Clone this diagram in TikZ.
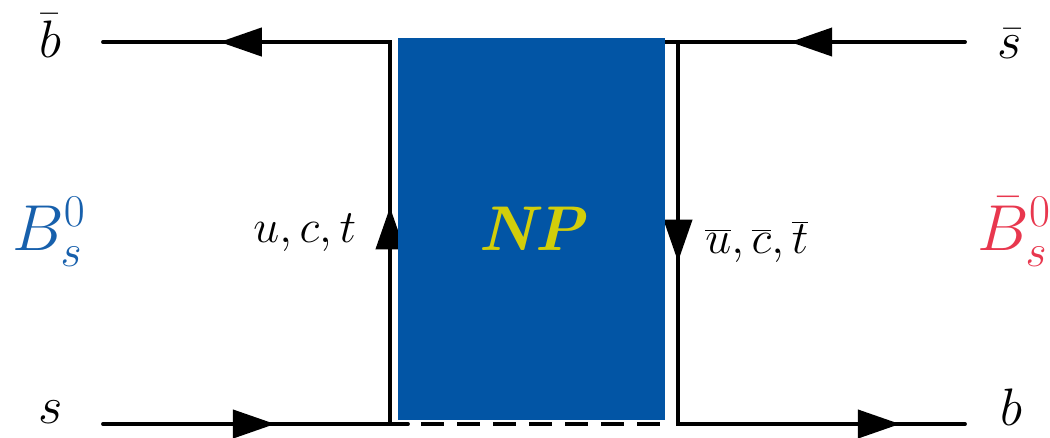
\RequirePackage{fix-cm}
\documentclass[tikz,border=0pt]{standalone}
\usepackage{fontspec}
\usetikzlibrary{arrows.meta,decorations.markings}
\definecolor{npblue}{HTML}{0255A5}
\definecolor{bsblue}{HTML}{1760AC}
\definecolor{bsred}{HTML}{E8374E}
\definecolor{npyellow}{HTML}{D2CE0A}
\tikzset{
  fline/.style={line width=2.2pt, line cap=round, line join=miter, draw=black},
  flow/.style n args={3}{postaction={decorate}, decoration={markings,
      mark=at position #1 with {\arrow{Triangle[length=24pt,width=16pt]}},
      mark=at position #2 with {\arrow{Triangle[length=24pt,width=16pt]}},
      mark=at position #3 with {\arrow{Triangle[length=24pt,width=16pt]}}}},
  quark/.style={font=\fontsize{30}{36}\selectfont, anchor=base, inner sep=0pt},
  meson/.style={font=\fontsize{37}{44}\selectfont, anchor=base west, inner sep=0pt, text=#1},
  loopq/.style={font=\fontsize{26.5}{30}\selectfont, anchor=base west, inner sep=0pt},
  npbox/.style={fill=npblue, minimum width=5.34cm, minimum height=7.64cm, inner sep=0pt,
                text=npyellow, font=\bfseries\itshape\fontsize{36}{44}\selectfont},
}

\begin{document}
\begin{tikzpicture}[x=0.02cm, y=-0.02cm]
  \useasboundingbox (0,0) rectangle (1050,437);

  % quark lines
  \coordinate (sin) at (103,424);
  \coordinate (lb) at (390,424);
  \coordinate (lt) at (390,42);
  \coordinate (bbout) at (103,42);
  \coordinate (sbin) at (965,42);
  \coordinate (rt) at (678,42);
  \coordinate (rb) at (678,424);
  \coordinate (bout) at (965,424);
  \coordinate (dl) at (408,424);
  \coordinate (dr) at (665,424);
  \coordinate (te) at (665,42);

  \draw[fline, flow={0.18}{0.527}{0.878}] (sin) -- (lb) -- (lt) -- (bbout);
  \draw[fline, flow={0.183}{0.53}{0.932}] (sbin) -- (rt) -- (rb) -- (bout);
  \draw[fline] (lb) -- (dl);
  \draw[fline] (rt) -- (te);
  \draw[fline, line cap=butt, dash pattern=on 13pt off 7.5pt, dash phase=13pt] (dl) -- (dr);

  % new physics box
  \node[npbox] (np) at (531.5,229) {\raisebox{-3pt}{NP}};

  % labels
  \node[quark] (bbar) at (50,57) {$\bar{b}$};
  \node[quark] (sbar) at (1010,58) {$\bar{s}$};
  \node[quark] (s) at (51,423) {$s$};
  \node[quark] (b) at (1011,425) {$b$};
  \node[meson=bsblue] (bs) at (12,250) {$B^0_s$};
  \node[meson=bsred] (bsbar) at (977,250) {$\bar{B}^0_s$};
  \node[loopq] (uct) at (253,242) {$u,c,t$};
  \node[loopq] (uctbar) at (705,253) {$\overline{u},\overline{c},\overline{t}$};
\end{tikzpicture}
\end{document}
